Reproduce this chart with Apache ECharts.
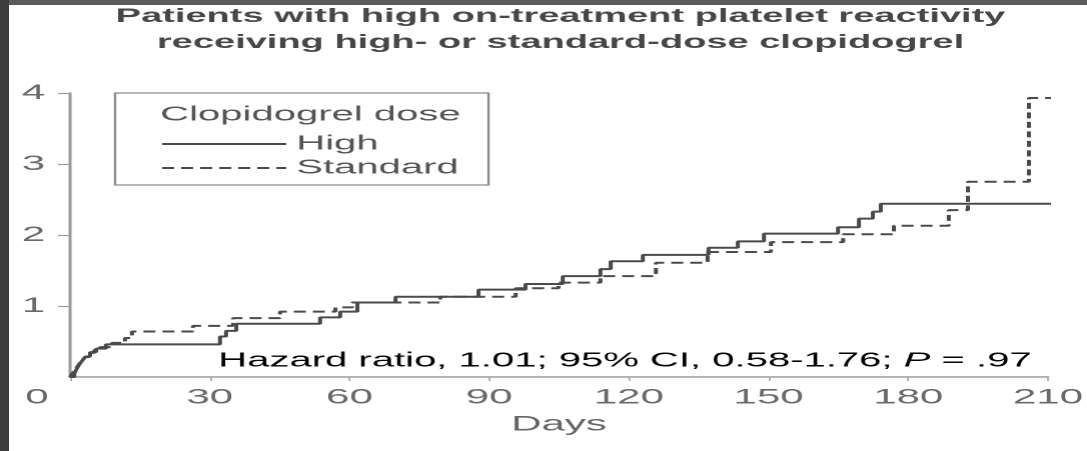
<!DOCTYPE html>
<html>
<head>
<meta charset="utf-8">
<script src="https://cdn.jsdelivr.net/npm/echarts@6/dist/echarts.min.js"></script>
<style>
html,body{margin:0;padding:0;background:#fff;overflow:hidden;}
#wrap{position:absolute;left:0;top:0;width:1087px;height:451px;overflow:hidden;background:#fff;}
#chart{position:absolute;left:0;top:0;width:543.5px;height:451px;transform:scaleX(2);transform-origin:0 0;}
#ftop{position:absolute;left:0;top:0;width:1087px;height:5px;background:#5a5a5a;}
#fleft{position:absolute;left:0;top:0;width:9px;height:451px;background:#3d3d3d;}
</style>
</head>
<body>
<div id="wrap"><div id="chart"></div><div id="ftop"></div><div id="fleft"></div></div>
<script>
// ---- data ----
const titleLines = [
  'Patients with high on-treatment platelet reactivity',
  'receiving high- or standard-dose clopidogrel'
];
const legendTitle = 'Clopidogrel dose';
const seriesNames = ['High', 'Standard'];
const xAxisName = 'Days';
const xTickValues = [0, 30, 60, 90, 120, 150, 180, 210];
const yTickValues = [0, 1, 2, 3, 4];
const annotationMain = 'Hazard ratio, 1.01; 95% CI, 0.58-1.76; ';
const annotationP = 'P';
const annotationEnd = ' = .97';

const highDays = [0, 0.9, 1.3, 1.9, 2.6, 3.4, 4.3, 5.6, 7.7, 32.2, 33.5, 35.7, 53.7, 58.0, 61.7, 69.9, 87.7, 97.8, 105.8, 113.9, 116.1, 123.0, 137.1, 143.4, 149.0, 164.9, 169.4, 172.4, 174.1, 211.7];
const highRate = [0, 0.05, 0.10, 0.17, 0.23, 0.29, 0.35, 0.40, 0.46, 0.57, 0.65, 0.75, 0.84, 0.92, 1.05, 1.13, 1.23, 1.31, 1.42, 1.52, 1.63, 1.72, 1.82, 1.91, 2.02, 2.11, 2.23, 2.33, 2.44, 2.44];

const stdDays = [0, 0.4, 1.1, 1.7, 2.4, 3.2, 4.1, 5.2, 6.4, 9.0, 11.8, 13.3, 26.4, 35.0, 45.1, 57.0, 60.6, 79.5, 95.7, 104.9, 113.9, 125.8, 136.9, 150.5, 166.0, 176.9, 188.7, 192.8, 205.9, 210.7];
const stdRate = [0, 0.04, 0.10, 0.16, 0.22, 0.28, 0.34, 0.38, 0.42, 0.48, 0.55, 0.64, 0.72, 0.83, 0.92, 0.98, 1.05, 1.13, 1.25, 1.33, 1.42, 1.61, 1.76, 1.90, 2.01, 2.13, 2.35, 2.75, 3.93, 3.93];

// ---- chart ----
const FONT = 'Liberation Sans, Arial, sans-serif';
const pairs = (xs, ys) => xs.map((x, i) => [x, ys[i]]);

const chart = echarts.init(document.getElementById('chart'), null, {
  width: 543.5, height: 451, devicePixelRatio: 2, renderer: 'canvas'
});

chart.setOption({
  animation: false,
  backgroundColor: '#ffffff',
  grid: { left: 35, right: 20, top: 93, bottom: 74, containLabel: false, outerBoundsMode: 'none' },
  xAxis: {
    type: 'value',
    min: xTickValues[0],
    max: xTickValues[xTickValues.length - 1],
    interval: xTickValues[1] - xTickValues[0],
    name: xAxisName,
    nameLocation: 'middle',
    nameGap: 37,
    nameTextStyle: { fontFamily: FONT, fontSize: 21, color: '#666' },
    splitLine: { show: false },
    axisLine: { show: true, lineStyle: { color: '#9a9a9a', width: 1.5 } },
    axisTick: { show: true, length: 4, lineStyle: { color: '#b0b0b0', width: 1 } },
    axisLabel: {
      margin: 10,
      fontFamily: FONT, fontSize: 21, color: '#6a6a6a',
      formatter: v => (v === 0 ? '{z|0}' : String(v)),
      rich: { z: { fontFamily: FONT, fontSize: 21, color: '#6a6a6a', padding: [0, 33, 0, 0] } }
    }
  },
  yAxis: {
    type: 'value',
    min: yTickValues[0],
    max: yTickValues[yTickValues.length - 1],
    interval: 1,
    splitLine: { show: false },
    axisLine: { show: true, lineStyle: { color: '#9a9a9a', width: 1.5 } },
    axisTick: { show: true, length: 6, lineStyle: { color: '#9a9a9a', width: 1.2 } },
    axisLabel: {
      margin: 12.5, showMinLabel: false,
      fontFamily: FONT, fontSize: 21, color: '#6a6a6a'
    }
  },
  legend: {
    orient: 'vertical',
    left: 80, top: 134, padding: 0,
    itemWidth: 62, itemHeight: 20, itemGap: 4,
    data: seriesNames,
    itemStyle: { opacity: 0 },
    textStyle: { fontFamily: FONT, fontSize: 20, color: '#555' },
    selectedMode: false
  },
  graphic: [
    {
      type: 'text', x: 280, y: 4, z: 10,
      style: {
        text: titleLines.join('\n'),
        textAlign: 'center', textVerticalAlign: 'top',
        fontFamily: FONT, fontWeight: 'bold', fontSize: 19, lineHeight: 26,
        fill: '#474747'
      }
    },
    {
      type: 'rect', z: 5,
      shape: { x: 57.5, y: 93, width: 186.5, height: 92 },
      style: { fill: 'none', stroke: '#8c8c8c', lineWidth: 1.2 }
    },
    {
      type: 'text', x: 80, y: 115, z: 10,
      style: {
        text: legendTitle, textAlign: 'left', textVerticalAlign: 'middle',
        fontFamily: FONT, fontSize: 20, fill: '#555'
      }
    },
    {
      type: 'text', x: 109, y: 361, z: 10,
      style: {
        text: '{a|' + annotationMain + '}{p|' + annotationP + '}{a|' + annotationEnd + '}',
        textAlign: 'left', textVerticalAlign: 'middle',
        rich: {
          a: { fontFamily: FONT, fontSize: 20, color: '#5e5e5e' },
          p: { fontFamily: FONT, fontSize: 20, fontStyle: 'italic', color: '#5e5e5e' }
        }
      }
    }
  ],
  series: [
    {
      name: seriesNames[0], type: 'line', step: 'end', symbol: 'none', clip: false,
      data: pairs(highDays, highRate),
      lineStyle: { color: '#4a4a4a', width: 2, type: 'solid' },
      itemStyle: { color: '#4a4a4a' }
    },
    {
      name: seriesNames[1], type: 'line', step: 'end', symbol: 'none', clip: false,
      data: pairs(stdDays, stdRate),
      lineStyle: { color: '#4a4a4a', width: 2, type: [6, 3.5] },
      itemStyle: { color: '#4a4a4a' }
    }
  ]
});
</script>
</body>
</html>
